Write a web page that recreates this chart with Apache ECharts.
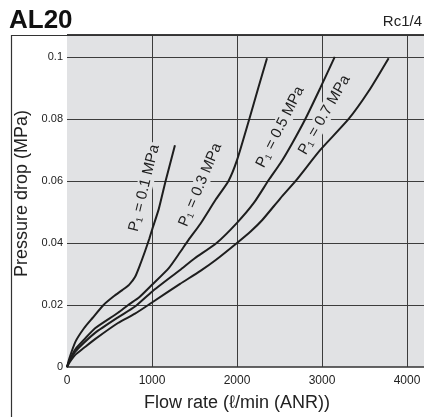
<!DOCTYPE html>
<html><head><meta charset="utf-8">
<script src="https://cdn.jsdelivr.net/npm/echarts@6/dist/echarts.min.js"></script>
<style>html,body{margin:0;padding:0;background:#fff}#c{width:424px;height:417px}</style>
</head><body><div id="c"></div>
<script>
// ---- data ----
const chartTitle = 'AL20';
const portSize = 'Rc1/4';
const xName = 'Flow rate (ℓ/min (ANR))';
const yName = 'Pressure drop (MPa)';
const xTicks = [0, 1000, 2000, 3000, 4000];
const xTickLabels = ['0', '1000', '2000', '3000', '4000'];
const yTicks = [0, 0.02, 0.04, 0.06, 0.08, 0.1];
const yTickLabels = ['0', '0.02', '0.04', '0.06', '0.08', '0.1'];
const seriesNames = ['0.1', '0.3', '0.5', '0.7'];

const flow01 = [0, 30, 100, 200, 300, 430, 550, 650, 730, 800, 860, 920, 970, 1000, 1080, 1160, 1270];
const drop01 = [0, 0.003, 0.0082, 0.0125, 0.0158, 0.020, 0.0228, 0.0248, 0.0265, 0.029, 0.033, 0.0375, 0.0415, 0.0442, 0.051, 0.060, 0.0715];

const flow03 = [0, 30, 100, 200, 330, 600, 720, 850, 1000, 1200, 1330, 1430, 1570, 1750, 1900, 2000, 2145, 2250, 2353];
const drop03 = [0, 0.0022, 0.0058, 0.0088, 0.0125, 0.0175, 0.020, 0.0225, 0.0265, 0.032, 0.037, 0.041, 0.0462, 0.054, 0.060, 0.0667, 0.080, 0.090, 0.0996];

const flow05 = [0, 30, 100, 200, 330, 600, 800, 1000, 1330, 1500, 1760, 2000, 2200, 2373, 2510, 2650, 2804, 2980, 3150];
const drop05 = [0, 0.0019, 0.005, 0.0078, 0.011, 0.016, 0.0195, 0.0243, 0.0313, 0.035, 0.040, 0.0465, 0.053, 0.0603, 0.0657, 0.0722, 0.080, 0.090, 0.100];

const flow07 = [0, 30, 100, 200, 330, 600, 800, 1000, 1330, 1570, 1750, 2000, 2160, 2300, 2510, 2690, 2980, 3314, 3550, 3784];
const drop07 = [0, 0.0015, 0.004, 0.0062, 0.009, 0.0142, 0.0172, 0.0208, 0.0268, 0.031, 0.0345, 0.040, 0.0437, 0.0475, 0.0544, 0.060, 0.070, 0.080, 0.089, 0.0996];

// label anchor points (data units) for curve annotations
const labelFlow = [909, 1568, 2509, 3027];
const labelDrop = [0.0577, 0.0587, 0.0774, 0.0813];

// ---- chart ----
const gray = '#e1e2e4';
const ink = '#1e1e1e';
const gridColor = '#3c3c3c';
const flows = [flow01, flow03, flow05, flow07];
const drops = [drop01, drop03, drop05, drop07];
const labelRotate = [76, 67, 63, 60];

const series = flows.map((f, k) => ({
  type: 'line',
  name: seriesNames[k],
  data: f.map((x, i) => [x, drops[k][i]]),
  smooth: 0.2,
  showSymbol: false,
  symbol: 'none',
  lineStyle: { color: ink, width: 2 },
  z: 3,
  markPoint: {
    symbol: 'circle',
    symbolSize: 0,
    silent: true,
    data: [{ coord: [labelFlow[k], labelDrop[k]] }],
    label: {
      show: true,
      position: 'inside',
      rotate: labelRotate[k],
      formatter: '{p|P}{s|1}{p| = ' + seriesNames[k] + ' MPa}',
      backgroundColor: gray,
      padding: [0, 2],
      rich: {
        p: { fontSize: 15, color: ink, fontFamily: 'Liberation Sans, Arial, sans-serif' },
        s: { fontSize: 9, color: ink, fontFamily: 'Liberation Sans, Arial, sans-serif', padding: [7, 1, 0, 0] }
      }
    }
  }
}));

const chart = echarts.init(document.getElementById('c'), null, { renderer: 'canvas' });
chart.setOption({
  animation: false,
  textStyle: { fontFamily: 'Liberation Sans, Arial, sans-serif' },
  title: [
    { text: chartTitle, left: 9, top: 8, padding: 0,
      textStyle: { fontSize: 26, fontWeight: 'bold', color: '#111', fontFamily: 'Liberation Sans, Arial, sans-serif' } },
    { text: portSize, right: 2, top: 14, padding: 0,
      textStyle: { fontSize: 15, fontWeight: 'normal', color: '#222', fontFamily: 'Liberation Sans, Arial, sans-serif' } }
  ],
  grid: { left: 67, right: 0, top: 34, bottom: 50, show: true, backgroundColor: gray, borderWidth: 0, containLabel: false },
  xAxis: {
    type: 'value', min: 0, max: 4200, interval: 1000,
    name: xName, nameLocation: 'middle', nameGap: 27,
    nameTextStyle: { fontSize: 18, color: '#222', padding: [0, 17, 0, 0] },
    axisLine: { show: true, lineStyle: { color: '#333', width: 1.5 } },
    axisTick: { show: false },
    axisLabel: {
      fontSize: 12, color: '#222', margin: 8, showMaxLabel: false,
      formatter: v => { const i = xTicks.indexOf(v); return i >= 0 ? xTickLabels[i] : ''; }
    },
    splitLine: { show: true, showMinLine: false, showMaxLine: false, lineStyle: { color: gridColor, width: 1 } }
  },
  yAxis: {
    type: 'value', min: 0, max: 0.1074, interval: 0.02,
    name: yName, nameLocation: 'middle', nameGap: 31,
    nameTextStyle: { fontSize: 18, color: '#222', padding: [0, 0, 0, 14] },
    axisLine: { show: false },
    axisTick: { show: false },
    axisLabel: {
      fontSize: 11, color: '#222', margin: 4, showMaxLabel: false,
      formatter: v => { const i = yTicks.findIndex(t => Math.abs(t - v) < 1e-9); return i >= 0 ? yTickLabels[i] : ''; }
    },
    splitLine: { show: true, showMinLine: false, showMaxLine: true, lineStyle: { color: gridColor, width: 1 } }
  },
  graphic: [
    { type: 'rect', left: 9, top: 33, z: 100, silent: true,
      shape: { width: 440, height: 420 },
      style: { fill: 'none', stroke: '#333', lineWidth: 1.2 } }
  ],
  series: series
});
</script></body></html>
